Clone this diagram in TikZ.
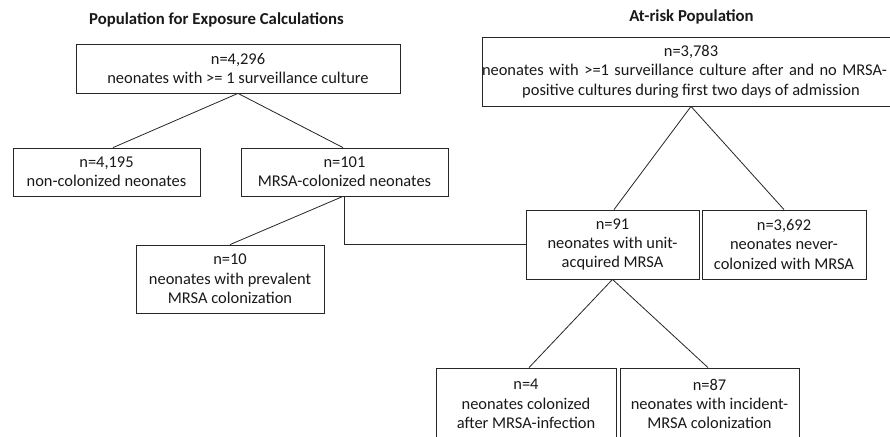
\documentclass[tikz,border=0pt]{standalone}
\usepackage{fontspec}
\setmainfont{Carlito}
\begin{document}
\begin{tikzpicture}[x=1bp,y=-1bp,
  box/.style={draw=black!85, line width=0.8bp, align=center, inner sep=0pt,
    font=\fontsize{16.5}{19.5}\selectfont, text=black!90},
  ttl/.style={font=\bfseries\fontsize{16.8}{19}\selectfont, text=black!90, inner sep=0pt},
  conn/.style={draw=black!85, line width=0.8bp}]
\useasboundingbox (0,0) rectangle (890,437);
\fill[white] (0,0) rectangle (890,437);
\clip (0,0) rectangle (890,437);
% titles
\node[ttl] (t1) at (216.5,20) {Population for Exposure Calculations};
\node[ttl] (t2) at (691.5,17) {At-risk Population};
% left tree
\node[box, minimum width=324bp, minimum height=49bp] (top) at (238,68.5)
  {n=4,296\\neonates with >= 1 surveillance culture};
\node[box, minimum width=187bp, minimum height=48bp] (nc) at (106.5,172)
  {n=4,195\\non-colonized neonates};
\node[box, minimum width=207bp, minimum height=48bp] (mc) at (344.5,172)
  {n=101\\MRSA-colonized neonates};
\node[box, minimum width=188bp, minimum height=68bp] (pv) at (230,279)
  {n=10\\neonates with prevalent\\MRSA colonization};
% right tree
\node[box, minimum width=418bp, minimum height=69bp] (ar) at (691,71.5)
  {n=3,783\\\makebox[418bp][l]{\makebox[405bp][s]{neonates with >=1 surveillance culture after and no MRSA-}}\\positive cultures during first two days of admission};
\node[box, minimum width=173bp, minimum height=69bp] (ua) at (612.5,244.5)
  {n=91\\neonates with unit-\\acquired MRSA};
\node[box, minimum width=164bp, minimum height=69bp] (nv) at (784,244.5)
  {n=3,692\\neonates never-\\colonized with MRSA};
\node[box, minimum width=180bp, minimum height=72bp] (ai) at (526,404)
  {n=4\\neonates colonized\\after MRSA-infection};
\node[box, minimum width=179bp, minimum height=72bp] (ic) at (709.5,404)
  {n=87\\neonates with incident-\\MRSA colonization};
% connectors
\draw[conn] (top.south) -- ([xshift=6.5bp]nc.north);
\draw[conn] (top.south) -- ([xshift=-1.5bp]mc.north);
\draw[conn] ([xshift=-1.5bp]mc.south) -- (pv.north);
\draw[conn] (mc.south) |- (ua.west);
\draw[conn] (ar.south) -- ([xshift=1.5bp]ua.north);
\draw[conn] (ar.south) -- (nv.north);
\draw[conn] (ua.south) -- ([xshift=3bp]ai.north);
\draw[conn] (ua.south) -- ([xshift=-1.5bp]ic.north);
\end{tikzpicture}
\end{document}
